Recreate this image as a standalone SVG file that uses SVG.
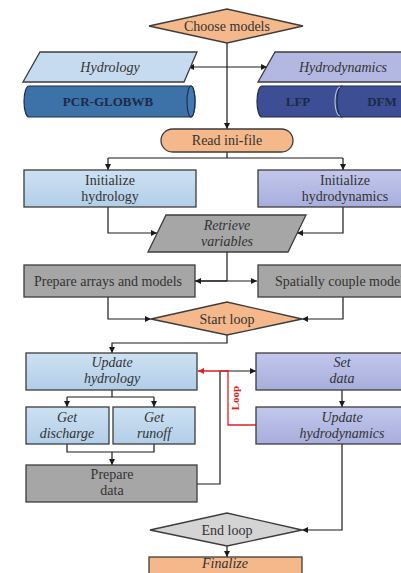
<svg xmlns="http://www.w3.org/2000/svg" width="401" height="573" viewBox="0 0 401 573">
  <defs>
    <linearGradient id="gBlue" x1="0" y1="0" x2="0" y2="1">
      <stop offset="0" stop-color="#cde1f2"/>
      <stop offset="1" stop-color="#b2cee8"/>
    </linearGradient>
    <linearGradient id="gPurple" x1="0" y1="0" x2="0" y2="1">
      <stop offset="0" stop-color="#c2c7ec"/>
      <stop offset="1" stop-color="#a8aedc"/>
    </linearGradient>
    <marker id="arr" viewBox="0 0 10 10" refX="10" refY="5" markerWidth="6" markerHeight="6" markerUnits="userSpaceOnUse" orient="auto">
      <path d="M0,0 L10,5 L0,10 Z" fill="#1a1a1a"/>
    </marker>
    <marker id="arrRed" viewBox="0 0 10 10" refX="10" refY="5" markerWidth="6" markerHeight="6" markerUnits="userSpaceOnUse" orient="auto">
      <path d="M0,0 L10,5 L0,10 Z" fill="#e02020"/>
    </marker>
    <marker id="arrStart" viewBox="0 0 10 10" refX="0" refY="5" markerWidth="6" markerHeight="6" markerUnits="userSpaceOnUse" orient="auto">
      <path d="M10,0 L0,5 L10,10 Z" fill="#1a1a1a"/>
    </marker>
  </defs>
  <style>
    text { font-family: "Liberation Serif", "Times New Roman", serif; font-size: 14px; fill: #333; text-anchor: middle; }
    .it { font-style: italic; }
    .box { stroke: #3c3c3c; stroke-width: 1.3; }
    .blue { fill: url(#gBlue); }
    .purple { fill: url(#gPurple); }
    .gray { fill: #a6a6a6; }
    .orange { fill: #f4b88a; }
    .lgray { fill: #d4d4d4; }
    .cyl { stroke: #1e2e4c; stroke-width: 1.2; }
    .cyltxt { fill: #1b2a48; font-weight: bold; font-size: 13px; }
    .link { fill: none; stroke: #1a1a1a; stroke-width: 1.2; }
    .loop { fill: none; stroke: #e02020; stroke-width: 1.3; }
  </style>

  <rect width="401" height="573" fill="#ffffff"/>

  <!-- connectors -->
  <g id="connectors">
    <path class="link" d="M227,43 V129" marker-end="url(#arr)"/>
    <path class="link" d="M188,67 H267" marker-start="url(#arrStart)" marker-end="url(#arr)"/>
    <path class="link" d="M227,152 V158"/>
    <path class="link" d="M108,158 H343"/>
    <path class="link" d="M108,158 V170" marker-end="url(#arr)"/>
    <path class="link" d="M343,158 V170" marker-end="url(#arr)"/>
    <path class="link" d="M108,207 V233 H157" marker-end="url(#arr)"/>
    <path class="link" d="M343,207 V233 H297" marker-end="url(#arr)"/>
    <path class="link" d="M227,252 V281"/>
    <path class="link" d="M195,281 H257" marker-end="url(#arr)"/>
    <path class="link" d="M227,281 H195" marker-end="url(#arr)"/>
    <path class="link" d="M108,297 V319 H151" marker-end="url(#arr)"/>
    <path class="link" d="M343,297 V319 H302" marker-end="url(#arr)"/>
    <path class="link" d="M227,335 V343 H112 V353" marker-end="url(#arr)"/>
    <path class="link" d="M112,390 V397"/>
    <path class="link" d="M67,397 H154"/>
    <path class="link" d="M67,397 V407" marker-end="url(#arr)"/>
    <path class="link" d="M154,397 V407" marker-end="url(#arr)"/>
    <path class="link" d="M67,444 V452 H154 V444"/>
    <path class="link" d="M112,452 V465" marker-end="url(#arr)"/>
    <path class="link" d="M197,484 H220 V371 H256" marker-end="url(#arr)"/>
    <path class="link" d="M342,390 V407" marker-end="url(#arr)"/>
    <path class="link" d="M342,444 V530 H302" marker-end="url(#arr)"/>
    <path class="link" d="M227,546 V557" marker-end="url(#arr)"/>
    <!-- loop feedback -->
    <path class="loop" d="M256,425 H228 V371 H198" marker-end="url(#arrRed)"/>
    <text x="236" y="398" transform="rotate(-90 236 398)" style="fill:#e02020;font-size:11px;font-weight:bold;" dominant-baseline="middle">Loop</text>
  </g>

  <!-- nodes -->
  <g id="choose-models">
    <polygon class="box orange" points="149,26 227,9 303,26 227,43"/>
    <text x="227" y="31">Choose models</text>
  </g>

  <g id="hydrology">
    <polygon class="box" fill="#c6dbef" points="40,52 197,52 184,82 23,82"/>
    <text class="it" x="110" y="72">Hydrology</text>
  </g>

  <g id="hydrodynamics">
    <polygon class="box" fill="#b3b8e2" points="275,52 410,52 410,82 258,82"/>
    <text class="it" x="343" y="72">Hydrodynamics</text>
  </g>

  <g id="pcr-globwb">
    <path class="cyl" fill="#3d72a8" d="M29,86 H191 A4,15.5 0 0 1 191,117 H29 A5,15.5 0 0 1 29,86 Z"/>
    <ellipse class="cyl" fill="#4179b0" cx="191" cy="101.5" rx="4" ry="15.5"/>
    <text class="cyltxt" x="108" y="106">PCR-GLOBWB</text>
  </g>

  <g id="lfp">
    <path class="cyl" fill="#3e4e94" d="M262,86 H342 V117 H262 A5,15.5 0 0 1 262,86 Z"/>
    <text class="cyltxt" x="298" y="106">LFP</text>
  </g>

  <g id="dfm">
    <path class="cyl" fill="#3e4e94" d="M342,86 H410 V117 H342 A5,15.5 0 0 1 342,86 Z"/>
    <path d="M340,87 A5,14.5 0 0 0 340,116" fill="none" stroke="#c8d0e8" stroke-width="1"/>
    <text class="cyltxt" x="382" y="106">DFM</text>
  </g>

  <g id="read-ini-file">
    <rect class="box orange" x="161" y="129" width="132" height="23" rx="11.5"/>
    <text x="227" y="145">Read ini-file</text>
  </g>

  <g id="init-hydrology">
    <rect class="box blue" x="24" y="170" width="172" height="37"/>
    <text x="110" y="185">Initialize</text>
    <text x="110" y="201">hydrology</text>
  </g>

  <g id="init-hydrodynamics">
    <rect class="box purple" x="258" y="170" width="150" height="37"/>
    <text x="345" y="185">Initialize</text>
    <text x="345" y="201">hydrodynamics</text>
  </g>

  <g id="retrieve-variables">
    <polygon class="box gray" points="166,215 306,215 288,252 148,252"/>
    <text class="it" x="227" y="230">Retrieve</text>
    <text class="it" x="227" y="246">variables</text>
  </g>

  <g id="prepare-arrays">
    <rect class="box gray" x="24" y="265" width="171" height="32"/>
    <text x="108" y="286">Prepare arrays and models</text>
  </g>

  <g id="spatially-couple">
    <rect class="box gray" x="258" y="265" width="150" height="32"/>
    <text x="275" y="286" style="text-anchor:start">Spatially couple models</text>
  </g>

  <g id="start-loop">
    <polygon class="box orange" points="151,319 227,302 302,319 227,335"/>
    <text x="227" y="324">Start loop</text>
  </g>

  <g id="update-hydrology">
    <rect class="box blue" x="26" y="353" width="171" height="37"/>
    <text class="it" x="112" y="367">Update</text>
    <text class="it" x="112" y="383">hydrology</text>
  </g>

  <g id="set-data">
    <rect class="box purple" x="256" y="353" width="152" height="37"/>
    <text class="it" x="342" y="367">Set</text>
    <text class="it" x="342" y="383">data</text>
  </g>

  <g id="get-discharge">
    <rect class="box blue" x="26" y="407" width="83" height="37"/>
    <text class="it" x="67" y="422">Get</text>
    <text class="it" x="67" y="438">discharge</text>
  </g>

  <g id="get-runoff">
    <rect class="box blue" x="113" y="407" width="82" height="37"/>
    <text class="it" x="154" y="422">Get</text>
    <text class="it" x="154" y="438">runoff</text>
  </g>

  <g id="update-hydrodynamics">
    <rect class="box purple" x="256" y="407" width="152" height="37"/>
    <text class="it" x="342" y="422">Update</text>
    <text class="it" x="342" y="438">hydrodynamics</text>
  </g>

  <g id="prepare-data">
    <rect class="box gray" x="26" y="465" width="171" height="37"/>
    <text x="112" y="479">Prepare</text>
    <text x="112" y="495">data</text>
  </g>

  <g id="end-loop">
    <polygon class="box lgray" points="150,530 227,513 302,530 227,546"/>
    <text x="227" y="535">End loop</text>
  </g>

  <g id="finalize">
    <rect class="box orange" x="149" y="557" width="153" height="24"/>
    <text class="it" x="225" y="568">Finalize</text>
  </g>
</svg>
